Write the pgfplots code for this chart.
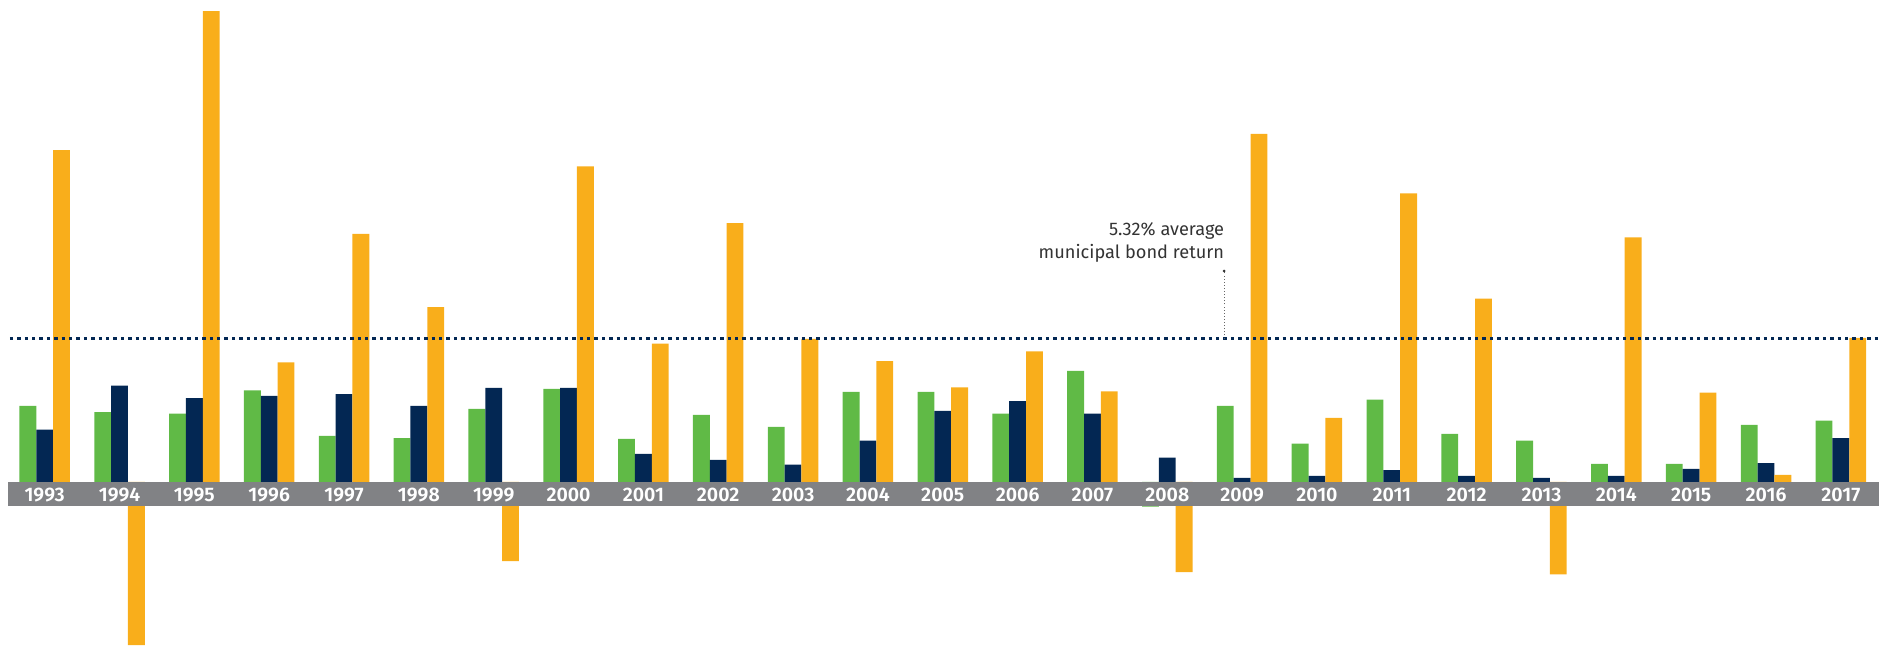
\documentclass[border=0pt]{standalone}
\usepackage{fontspec}
\setmainfont{Fira Sans}
\newfontfamily\yearfont{Fira Sans SemiBold}
\usepackage{pgfplots}
\pgfplotsset{compat=1.18}
\usepackage{pgfplotstable}

\definecolor{cgreen}{HTML}{60BA46}
\definecolor{cnavy}{HTML}{032753}
\definecolor{corange}{HTML}{F9AE1B}
\definecolor{cband}{HTML}{818285}
\definecolor{ctext}{HTML}{333333}

\pgfplotstableread{
idx green navy orange
0 2.82 1.94 12.30
1 2.59 3.57 -5.17
2 2.53 3.11 17.46
3 3.40 3.19 4.43
4 1.71 3.26 9.20
5 1.63 2.82 6.48
6 2.71 3.49 -2.06
7 3.45 3.49 11.70
8 1.60 1.04 5.13
9 2.49 0.82 9.60
10 2.04 0.64 5.31
11 3.34 1.53 4.48
12 3.34 2.64 3.51
13 2.53 3.00 4.84
14 4.12 2.53 3.36
15 -0.04 0.90 -2.47
16 2.82 0.15 12.91
17 1.42 0.23 2.38
18 3.05 0.44 10.70
19 1.78 0.23 6.80
20 1.53 0.15 -2.55
21 0.67 0.23 9.07
22 0.67 0.49 3.31
23 2.12 0.70 0.26
24 2.27 1.63 5.34
}\returns

\begin{document}
\begin{tikzpicture}
\begin{axis}[
  scale only axis, width=935.5pt, height=322.5pt,
  xmin=-0.49, xmax=24.51, ymin=-6.045, ymax=17.87,
  axis x line=middle, axis y line=none,
  x axis line style={draw=none},
  xtick={0,...,24},
  xticklabels={1993,1994,1995,1996,1997,1998,1999,2000,2001,2002,2003,2004,2005,2006,2007,2008,2009,2010,2011,2012,2013,2014,2015,2016,2017},
  major tick length=0pt,
  xticklabel style={font=\yearfont\fontsize{9.8}{12}\selectfont, text=white, anchor=base, yshift=-9.6pt, inner sep=0pt},
  axis on top,
  y filter/.expression={y<0 ? y-0.875 : y},
]
\addplot[ybar, bar width=0.225, bar shift=-0.225, fill=cgreen, draw=none] table[x=idx, y=green] {\returns};
\addplot[ybar, bar width=0.225, bar shift=0, fill=cnavy, draw=none] table[x=idx, y=navy] {\returns};
\addplot[ybar, bar width=0.225, bar shift=0.225, fill=corange, draw=none] table[x=idx, y=orange] {\returns};
\fill[cband] (axis cs:-0.49,0) rectangle (axis cs:24.51,-0.875);
\addplot[cnavy, line width=1.3pt, dash pattern=on 1.65pt off 2.05pt] coordinates {(-0.465,5.32) (24.51,5.32)};
\draw[gray!80!black, line width=0.45pt, dash pattern=on 0.45pt off 1.1pt] (axis cs:15.76,5.32) -- (axis cs:15.76,7.82);
\fill[ctext] (axis cs:15.76,7.82) circle (0.75pt);
\node[anchor=south east, inner sep=0pt, align=right, text=ctext, font=\fontsize{9.1}{11.6}\selectfont] at (axis cs:15.765,8.12) {5.32\% average\\municipal bond return};
\coordinate (bl) at (rel axis cs:0,0);
\coordinate (tr) at (rel axis cs:1,1);
\end{axis}
\pgfresetboundingbox
\path ([xshift=-4pt]bl) rectangle (tr);
\end{tikzpicture}
\end{document}
